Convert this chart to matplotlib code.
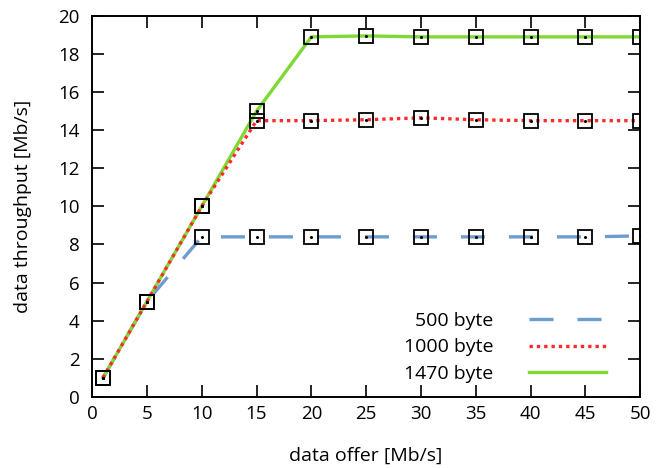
import matplotlib
matplotlib.use("Agg")
import matplotlib.pyplot as plt

x = [1, 5, 10, 15, 20, 25, 30, 35, 40, 45, 50]
y500 = [1, 5, 8.4, 8.4, 8.4, 8.4, 8.4, 8.4, 8.4, 8.4, 8.45]
y1000 = [1, 5, 10, 14.5, 14.5, 14.55, 14.65, 14.55, 14.5, 14.5, 14.5]
y1470 = [1, 5, 10, 15, 18.9, 18.95, 18.9, 18.9, 18.9, 18.9, 18.9]
labels = ["500 byte", "1000 byte", "1470 byte"]
xticks = list(range(0, 51, 5))
yticks = list(range(0, 21, 2))

plt.rcParams['font.family'] = ['Open Sans', 'DejaVu Sans']
fig = plt.figure(figsize=(6.67, 4.68), dpi=100)
ax = fig.add_axes([0.138, 0.152, 0.822, 0.814])

ax.plot(x, y500, color='#6f9bd1', lw=2.4, dashes=(7.2, 7.2), label=labels[0])
ax.plot(x, y1470, color='#7fd934', lw=2.4, label=labels[2])
ax.plot(x, y1000, color='#ff2a2a', lw=2.4, dashes=(1, 1.2), label=labels[1])
for ys in (y500, y1000, y1470):
    ax.plot(x, ys, ls='none', marker='s', ms=9.5, mfc='none', mec='black', mew=1.3)
    ax.plot(x, ys, ls='none', marker='o', ms=1.2, mfc='black', mec='black')

ax.set_xlim(0, 50)
ax.set_ylim(0, 20)
ax.set_xticks(xticks)
ax.set_yticks(yticks)
ax.tick_params(direction='in', length=8.5, width=1.2, top=True, right=True, labelsize=13.5)
ax.tick_params(axis='x', pad=6)
ax.tick_params(axis='y', pad=9)
for s in ax.spines.values():
    s.set_linewidth(1.4)
ax.set_xlabel('data offer [Mb/s]', fontsize=14, labelpad=17)
ax.set_ylabel('data throughput [Mb/s]', fontsize=14, labelpad=19)

handles, labs = ax.get_legend_handles_labels()
order = [labs.index(l) for l in labels]
leg = ax.legend([handles[i] for i in order], [labs[i] for i in order],
                loc='lower right', frameon=False, markerfirst=False, fontsize=14,
                handlelength=4.0, handletextpad=1.8, labelspacing=0.45,
                bbox_to_anchor=(0.97, -0.01))

fig.savefig('out.png', dpi=100)
